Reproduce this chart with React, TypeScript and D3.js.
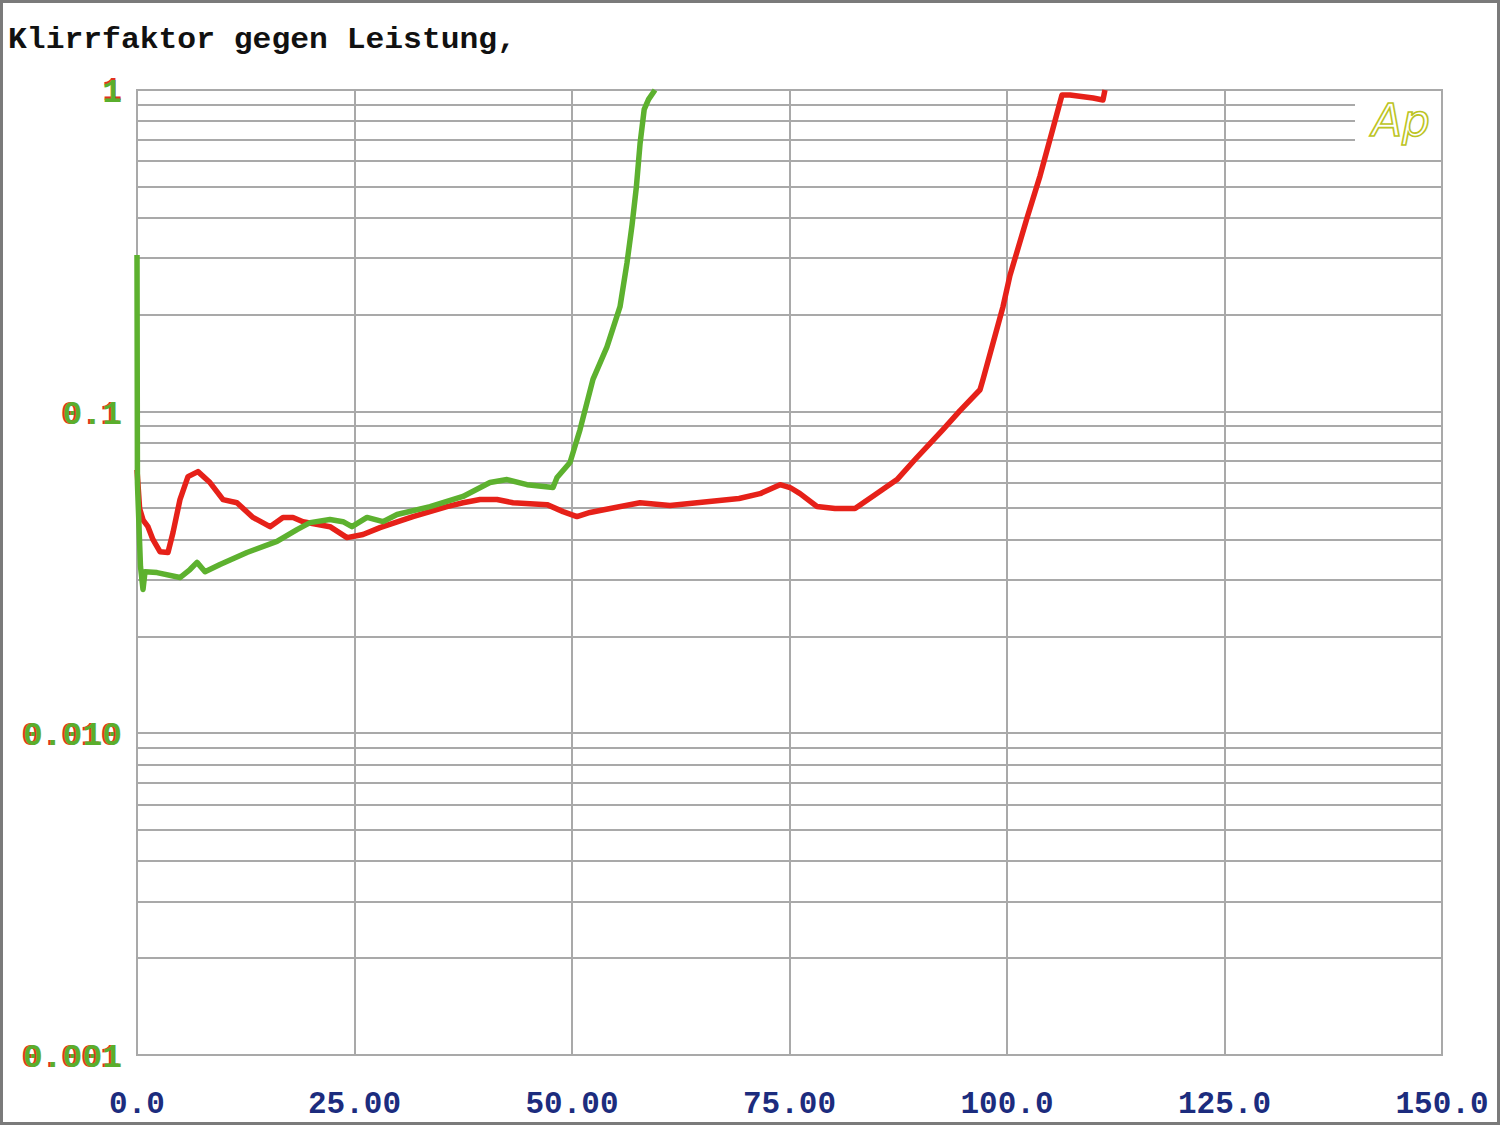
import { useEffect, useRef } from 'react';
import * as d3 from 'd3';

// Leistung (W) vs. Klirrfaktor (%)
const redSeries: [number, number][] = [
  [0, 0.066], [0.3, 0.05], [0.7, 0.046], [1.26, 0.0439], [1.84, 0.04], [2.64, 0.0367],
  [3.56, 0.0365], [4.14, 0.0421], [4.94, 0.0533], [5.86, 0.0628], [7.01, 0.0651],
  [8.39, 0.0602], [9.89, 0.0533], [11.49, 0.0521], [13.33, 0.0469], [15.29, 0.0439],
  [16.78, 0.0469], [17.93, 0.0469], [19.08, 0.0455], [22.18, 0.0439], [24.14, 0.0406],
  [25.98, 0.0415], [27.93, 0.0436], [31.72, 0.0472], [35.63, 0.0507], [37.47, 0.0521],
  [39.43, 0.0533], [41.38, 0.0533], [43.22, 0.0521], [47.13, 0.0514], [48.97, 0.0489],
  [50.57, 0.0472], [52.07, 0.0486], [53.22, 0.0493], [57.82, 0.0521], [61.26, 0.0511],
  [64.37, 0.0521], [69.2, 0.0537], [71.61, 0.0556], [73.91, 0.0593], [75.06, 0.0581],
  [76.21, 0.0556], [78.16, 0.0507], [80.23, 0.05], [82.53, 0.05], [84.83, 0.0552],
  [87.36, 0.0615], [89.43, 0.071], [92.64, 0.0879], [94.6, 0.1007], [96.9, 0.117],
  [97.24, 0.126], [99.54, 0.212], [100.34, 0.265], [102.3, 0.4], [103.79, 0.54],
  [105.29, 0.76], [106.32, 0.965], [107.24, 0.965], [109.89, 0.944], [111.03, 0.931],
  [111.26, 1.0],
];

const greenSeries: [number, number][] = [
  [0, 0.307], [0.05, 0.06], [0.4, 0.033], [0.69, 0.028], [0.92, 0.0318], [2.3, 0.0316],
  [4.94, 0.0305], [6.09, 0.0323], [6.9, 0.034], [7.82, 0.0318], [9.54, 0.0335],
  [12.64, 0.0365], [16.09, 0.0395], [18.39, 0.043], [19.89, 0.0452], [22.18, 0.0462],
  [23.68, 0.0455], [24.71, 0.0439], [26.44, 0.0469], [28.28, 0.0455], [29.89, 0.0479],
  [33.68, 0.0507], [37.47, 0.0545], [40.57, 0.0602], [42.53, 0.0615], [44.83, 0.0593],
  [47.82, 0.0581], [48.28, 0.0624], [49.77, 0.0695], [50.92, 0.0879], [52.41, 0.126],
  [54.02, 0.159], [55.52, 0.212], [56.32, 0.29], [56.9, 0.38], [57.4, 0.5],
  [57.82, 0.68], [58.3, 0.87], [58.8, 0.935], [59.54, 1.0],
];

const xTicks = [0, 25, 50, 75, 100, 125, 150];
const xTickLabels = ['0.0', '25.00', '50.00', '75.00', '100.0', '125.0', '150.0'];
const yTicks = [1, 0.1, 0.01, 0.001];
const yTickLabels = ['1', '0.1', '0.010', '0.001'];

export default function App() {
  const ref = useRef<SVGSVGElement>(null);

  useEffect(() => {
    if (!ref.current) return;
    const svg = d3.select(ref.current);
    svg.selectAll('*').remove();

    const width = 1500;
    const height = 1125;
    const left = 137, right = 1442, top = 90, bottom = 1055;

    const x = d3.scaleLinear().domain([0, 150]).range([left, right]);
    const y = d3.scaleLog().domain([0.001, 1]).range([bottom, top]);

    svg.attr('width', width).attr('height', height);

    svg.append('rect')
      .attr('x', 1.5).attr('y', 1.5)
      .attr('width', width - 3).attr('height', height - 3)
      .attr('fill', '#fff')
      .attr('stroke', '#7a7a7a')
      .attr('stroke-width', 3);

    // horizontal grid at every minor decade step
    const minor: number[] = [];
    for (let d = 0.001; d < 1; d *= 10) {
      for (let k = 2; k <= 9; k++) minor.push(+(d * k).toPrecision(3));
    }
    const grid = svg.append('g')
      .attr('stroke', '#a9a9a9')
      .attr('stroke-width', 2)
      .attr('shape-rendering', 'crispEdges');

    grid.selectAll('line.h')
      .data(minor.concat([0.01, 0.1]))
      .join('line')
      .attr('class', 'h')
      .attr('x1', left)
      .attr('x2', d => (d >= 0.7 ? 1355 : right))
      .attr('y1', d => Math.round(y(d)))
      .attr('y2', d => Math.round(y(d)));

    grid.selectAll('line.v')
      .data(xTicks.slice(1, -1))
      .join('line')
      .attr('class', 'v')
      .attr('x1', d => Math.round(x(d)))
      .attr('x2', d => Math.round(x(d)))
      .attr('y1', top)
      .attr('y2', bottom);

    grid.append('rect')
      .attr('x', left).attr('y', top)
      .attr('width', right - left).attr('height', bottom - top)
      .attr('fill', 'none');

    // Ap logo
    svg.append('text')
      .attr('x', 1372).attr('y', 136)
      .attr('font-family', 'DejaVu Sans')
      .attr('font-style', 'italic')
      .attr('font-size', 44)
      .attr('fill', 'none')
      .attr('stroke', '#bcc424')
      .attr('stroke-width', 1.6)
      .text('Ap');

    const line = d3.line<[number, number]>()
      .x(d => x(d[0]))
      .y(d => y(d[1]));

    svg.append('path')
      .datum(redSeries)
      .attr('d', line)
      .attr('fill', 'none')
      .attr('stroke', '#e62119')
      .attr('stroke-width', 5.5)
      .attr('stroke-linejoin', 'round');

    svg.append('path')
      .datum(greenSeries)
      .attr('d', line)
      .attr('fill', 'none')
      .attr('stroke', '#5db12f')
      .attr('stroke-width', 5.5)
      .attr('stroke-linejoin', 'round');

    // title
    svg.append('text')
      .attr('x', 8).attr('y', 48)
      .attr('font-family', 'Liberation Mono')
      .attr('font-weight', 'bold')
      .attr('font-size', 30)
      .attr('fill', '#111')
      .attr('textLength', 508)
      .attr('lengthAdjust', 'spacingAndGlyphs')
      .text('Klirrfaktor gegen Leistung,');

    // y tick labels, red shadow underneath
    const yl = svg.append('g')
      .attr('font-family', 'Liberation Mono')
      .attr('font-weight', 'bold')
      .attr('font-size', 33)
      .attr('text-anchor', 'end');

    yl.selectAll('text.shadow')
      .data(yTicks)
      .join('text')
      .attr('class', 'shadow')
      .attr('x', (d, i) => (i === 0 ? 122 : 120))
      .attr('y', (d, i) => y(d) + 12 - (i === 0 ? 2 : 0))
      .attr('fill', '#e0321e')
      .text((d, i) => yTickLabels[i]);

    yl.selectAll('text.main')
      .data(yTicks)
      .join('text')
      .attr('class', 'main')
      .attr('x', 122)
      .attr('y', d => y(d) + 12)
      .attr('fill', '#5aae2c')
      .text((d, i) => yTickLabels[i]);

    // x tick labels
    svg.append('g')
      .attr('font-family', 'Liberation Mono')
      .attr('font-weight', 'bold')
      .attr('font-size', 31)
      .attr('fill', '#1c2c7e')
      .attr('text-anchor', 'middle')
      .selectAll('text')
      .data(xTicks)
      .join('text')
      .attr('x', d => x(d))
      .attr('y', 1113)
      .text((d, i) => xTickLabels[i]);
  }, []);

  return (
    <svg ref={ref} style={{ position: 'absolute', left: 0, top: 0 }}></svg>
  );
}
